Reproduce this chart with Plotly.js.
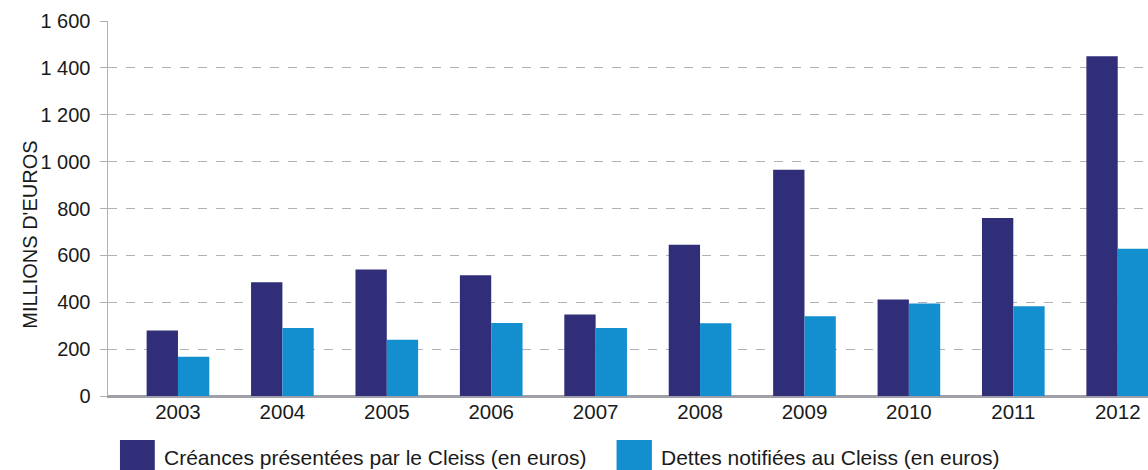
<!DOCTYPE html>
<html>
<head>
<meta charset="utf-8">
<script src="https://cdn.plot.ly/plotly-3.0.1.min.js"></script>
<style>
html,body{margin:0;padding:0;background:#fff;}
#chart{width:1148px;height:470px;}
</style>
</head>
<body>
<div id="chart"></div>
<script>
const years = ["2003","2004","2005","2006","2007","2008","2009","2010","2011","2012"];
const creances = [280, 485, 540, 515, 348, 645, 965, 412, 760, 1450];
const dettes = [168, 290, 240, 312, 290, 310, 340, 395, 383, 628];
const seriesNames = ["Créances présentées par le Cleiss (en euros)", "Dettes notifiées au Cleiss (en euros)"];
const seriesColors = ["#302e78", "#138ecf"];
const yTicks = [0, 200, 400, 600, 800, 1000, 1200, 1400, 1600];
const yTitle = "MILLIONS D'EUROS";

const traces = [
  {type:"bar", x:years, y:creances, name:seriesNames[0], marker:{color:seriesColors[0]}, hoverinfo:"x+y"},
  {type:"bar", x:years, y:dettes, name:seriesNames[1], marker:{color:seriesColors[1]}, hoverinfo:"x+y"}
];

const fam = "Liberation Sans, Arial, sans-serif";
const txt = "#1a1a1a";

// custom legend (large square swatches like the reference)
const legendX = [[0.0115, 0.045], [0.489, 0.523]];
const legendTextX = [0.052, 0.530];
const shapes = [];
const annotations = [];
seriesNames.forEach((n, i) => {
  shapes.push({type:"rect", xref:"paper", yref:"paper", x0:legendX[i][0], x1:legendX[i][1], y0:-0.117, y1:-0.2, fillcolor:seriesColors[i], line:{width:0}});
  annotations.push({xref:"paper", yref:"paper", x:legendTextX[i], y:-0.163, xanchor:"left", yanchor:"middle", text:n, showarrow:false, font:{family:fam, size:21, color:txt}});
});
// y-axis title placed like the reference
annotations.push({xref:"paper", yref:"paper", x:-0.075, y:0.43, xanchor:"center", yanchor:"middle", textangle:-90, text:yTitle, showarrow:false, font:{family:fam, size:20, color:txt}});

const layout = {
  width:1148, height:470,
  margin:{l:108, r:0, t:21, b:74},
  paper_bgcolor:"#fff", plot_bgcolor:"#fff",
  font:{family:fam, size:20, color:txt},
  separators:", ",
  barmode:"group",
  bargap:0.4,
  bargroupgap:0,
  showlegend:false,
  xaxis:{
    type:"category",
    range:[-0.67, 9.29],
    showgrid:false,
    showline:true, linecolor:"#a0a0a8", linewidth:1.5,
    ticks:"", tickfont:{size:20.5, color:txt},
    ticklabelstandoff:-3,
    fixedrange:true
  },
  yaxis:{
    range:[0, 1600],
    tickvals:yTicks,
    tickformat:",d",
    separatethousands:true,
    showgrid:true, gridcolor:"#b0b0b6", griddash:"dash", gridwidth:1,
    zeroline:true, zerolinecolor:"#a0a0a8", zerolinewidth:1.5,
    showline:true, linecolor:"#b0b0b8", linewidth:1.5,
    ticks:"outside", ticklen:7, tickcolor:"#b0b0b6",
    ticklabelstandoff:5,
    tickfont:{size:20, color:txt},
    automargin:false,
    fixedrange:true
  },
  shapes:shapes,
  annotations:annotations
};

Plotly.newPlot("chart", traces, layout, {displayModeBar:false, staticPlot:true});
</script>
</body>
</html>
